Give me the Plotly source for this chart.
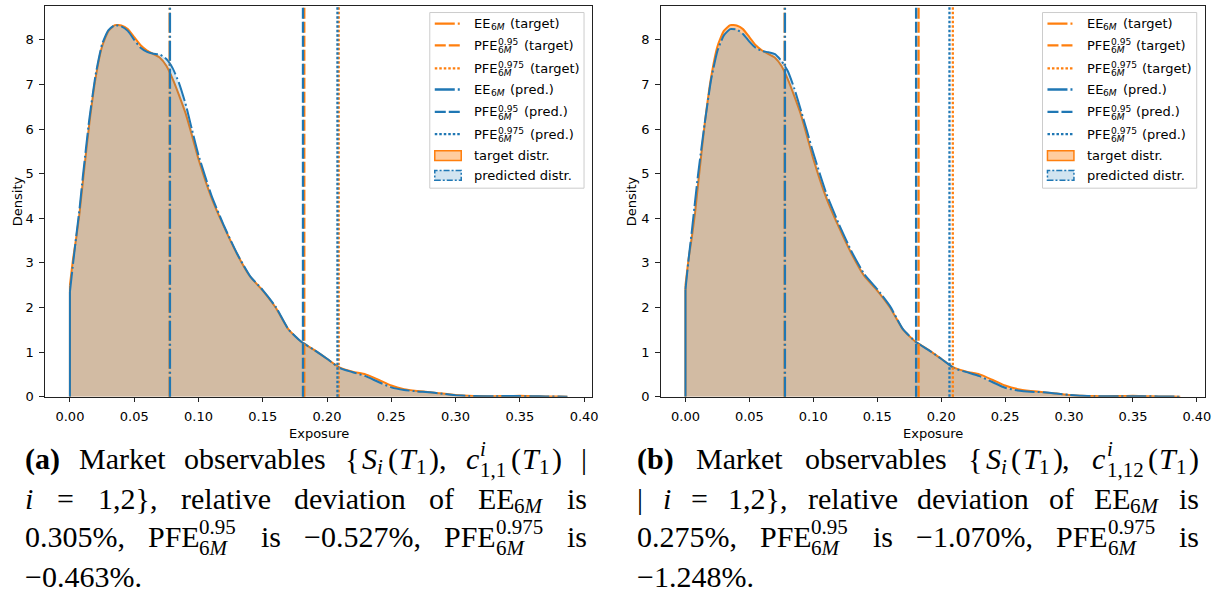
import plotly.graph_objects as go

# ------------------------------------------------------------------ data
exposure_grid = [0.0, 0.0025, 0.005, 0.0075, 0.01, 0.015, 0.02, 0.025, 0.03, 0.035,
                 0.04, 0.045, 0.05, 0.055, 0.06, 0.065, 0.07, 0.075, 0.08, 0.085,
                 0.09, 0.095, 0.10, 0.11, 0.12, 0.13, 0.14, 0.15, 0.16, 0.17,
                 0.18, 0.19, 0.20, 0.21, 0.22, 0.23, 0.24, 0.25, 0.26, 0.27,
                 0.28, 0.29, 0.30, 0.31, 0.32, 0.33, 0.34, 0.35, 0.36, 0.37,
                 0.38, 0.387]

target_density = [2.50, 3.10, 3.58, 4.12, 4.80, 6.10, 7.15, 7.85, 8.20, 8.33,
                  8.32, 8.24, 8.06, 7.88, 7.76, 7.68, 7.60, 7.42, 7.12, 6.75,
                  6.35, 5.85, 5.33, 4.47, 3.80, 3.20, 2.70, 2.38, 2.00, 1.51,
                  1.23, 1.05, 0.85, 0.65, 0.56, 0.50, 0.38, 0.25, 0.17, 0.13,
                  0.10, 0.07, 0.04, 0.02, 0.013, 0.012, 0.016, 0.02, 0.012, 0.006,
                  0.003, 0.001]

pred_density_a = [2.35, 3.00, 3.62, 4.22, 4.92, 6.20, 7.22, 7.90, 8.22, 8.33,
                  8.30, 8.20, 8.00, 7.82, 7.73, 7.69, 7.67, 7.57, 7.36, 7.02,
                  6.56, 5.98, 5.42, 4.52, 3.82, 3.21, 2.71, 2.39, 2.02, 1.51,
                  1.23, 1.05, 0.85, 0.64, 0.55, 0.46, 0.33, 0.21, 0.15, 0.12,
                  0.10, 0.065, 0.035, 0.018, 0.012, 0.012, 0.014, 0.014, 0.01, 0.006,
                  0.003, 0.001]

pred_density_b = [2.40, 3.10, 3.72, 4.38, 5.02, 6.12, 7.10, 7.75, 8.10, 8.24,
                  8.23, 8.13, 7.96, 7.82, 7.75, 7.72, 7.68, 7.53, 7.30, 6.92,
                  6.45, 5.96, 5.46, 4.57, 3.87, 3.25, 2.74, 2.41, 2.03, 1.52,
                  1.23, 1.05, 0.85, 0.64, 0.55, 0.46, 0.33, 0.20, 0.14, 0.11,
                  0.10, 0.07, 0.04, 0.02, 0.012, 0.01, 0.012, 0.012, 0.01, 0.006,
                  0.003, 0.001]

risk_measures = ["EE", "PFE95", "PFE975"]
target_measure_values = [0.0776, 0.1823, 0.2091]
pred_measure_values_a = [0.0778, 0.1813, 0.2081]
pred_measure_values_b = [0.0778, 0.1804, 0.2065]

x_tick_values = [0.00, 0.05, 0.10, 0.15, 0.20, 0.25, 0.30, 0.35, 0.40]
x_tick_labels = ["0.00", "0.05", "0.10", "0.15", "0.20", "0.25", "0.30", "0.35", "0.40"]
y_tick_values = [0, 1, 2, 3, 4, 5, 6, 7, 8]
y_tick_labels = ["0", "1", "2", "3", "4", "5", "6", "7", "8"]

# ------------------------------------------------------------------ style
W, H = 1230, 607
ORANGE = "#ff7f0e"
BLUE = "#1f77b4"
SANS = "DejaVu Sans"
SERIF = "Liberation Serif"
DASH_EE = "20px,3px,2px,3px"
DASH_95 = "11px,3px"
DASH_975 = "2.5px,2px"
measure_dashes = [DASH_EE, DASH_95, DASH_975]


def fx(p):
    return p / W


def fy(p):
    return 1 - p / H


shapes, annotations = [], []


def ann(x, y, text, size, family=SANS, anchor="left", angle=0):
    annotations.append(dict(x=fx(x), y=fy(y), xref="paper", yref="paper", text=text,
                            showarrow=False, xanchor=anchor, yanchor="middle",
                            textangle=angle, borderpad=0,
                            font=dict(family=family, size=size, color="black")))


fig = go.Figure()

axis_style = dict(showline=True, mirror=True, linecolor="#222222", linewidth=1.1,
                  ticks="outside", ticklen=4.5, tickwidth=1.1, tickcolor="#222222",
                  showgrid=False, zeroline=False, ticklabelstandoff=3,
                  tickfont=dict(family=SANS, size=13, color="black"), fixedrange=True)

panels = [
    dict(xa="x", ya="y", xkey="xaxis", ykey="yaxis", left=45.2, right=595.4,
         pred=pred_density_a, pred_vals=pred_measure_values_a, ytitle_x=17),
    dict(xa="x2", ya="y2", xkey="xaxis2", ykey="yaxis2", left=663.9, right=1211.1,
         pred=pred_density_b, pred_vals=pred_measure_values_b, ytitle_x=634),
]

for p in panels:
    for dens, fillc, col, dash in ((target_density, "rgba(255,127,14,0.4)", ORANGE, "solid"),
                                   (p["pred"], "rgba(31,119,180,0.2)", BLUE, DASH_EE)):
        fig.add_trace(go.Scatter(x=exposure_grid, y=dens, xaxis=p["xa"], yaxis=p["ya"],
                                 mode="lines", fill="tozeroy", fillcolor=fillc,
                                 line=dict(color=col, width=2, dash=dash, shape="spline", smoothing=0.5),
                                 hoverinfo="skip", showlegend=False))
        fig.add_trace(go.Scatter(x=[exposure_grid[0], exposure_grid[0], None, exposure_grid[-1], exposure_grid[-1]],
                                 y=[0, dens[0], None, 0, dens[-1]], xaxis=p["xa"], yaxis=p["ya"],
                                 mode="lines", line=dict(color=col, width=2),
                                 hoverinfo="skip", showlegend=False))
    for vals, col in ((target_measure_values, ORANGE), (p["pred_vals"], BLUE)):
        for v, d in zip(vals, measure_dashes):
            shapes.append(dict(type="line", xref=p["xa"], yref=p["ya"] + " domain",
                               x0=v, x1=v, y0=0, y1=1, layer="above",
                               line=dict(color=col, width=2.3, dash=d)))
    fig.update_layout(**{
        p["xkey"]: dict(domain=[fx(p["left"]), fx(p["right"])], range=[-0.0194, 0.4065],
                        anchor=p["ya"], tickmode="array", tickvals=x_tick_values,
                        ticktext=x_tick_labels, **axis_style),
        p["ykey"]: dict(domain=[fy(402), fy(6)], range=[0, 8.76], anchor=p["xa"],
                        tickmode="array", tickvals=y_tick_values, ticktext=y_tick_labels,
                        **axis_style),
    })
    ann((p["left"] + p["right"]) / 2, 439, "Exposure", 13, anchor="center")
    ann(p["ytitle_x"], 204, "Density", 13, anchor="center", angle=-90)

# ------------------------------------------------------------------ legends
legend_rows_y = [24, 46, 69.3, 90.7, 113.3, 136, 157.7, 177.7]
legend_sups = [None, "0.95", "0.975"]
legend_suffix_dx = [36.7, 50.0, 56.0]


def legend(box_left):
    box_w, box_top, box_bot = 155, 12.7, 190.7
    shapes.append(dict(type="rect", xref="paper", yref="paper", x0=fx(box_left), x1=fx(box_left + box_w),
                       y0=fy(box_bot), y1=fy(box_top), layer="above",
                       fillcolor="rgba(255,255,255,0.8)", line=dict(color="#cccccc", width=1)))
    s0, s1 = box_left + 5, box_left + 31.6
    T = box_left + 43.3
    row = 0
    for col, who in ((ORANGE, "(target)"), (BLUE, "(pred.)")):
        for k, d in enumerate(measure_dashes):
            y = legend_rows_y[row]
            shapes.append(dict(type="line", xref="paper", yref="paper", x0=fx(s0), x1=fx(s1),
                               y0=fy(y), y1=fy(y), layer="above", line=dict(color=col, width=2.3, dash=d)))
            if legend_sups[k] is None:
                ann(T, y, "EE", 13)
                ann(T + 16.7, y + 3.5, "6<i>M</i>", 9.1)
            else:
                ann(T, y, "PFE", 13)
                ann(T + 24.5, y - 3.2, legend_sups[k], 9.1)
                ann(T + 24.5, y + 5.0, "6<i>M</i>", 9.1)
            ann(T + legend_suffix_dx[k], y, who, 13)
            row += 1
    for col, fillc, d, label in ((ORANGE, "rgba(255,127,14,0.4)", "solid", "target distr."),
                                 (BLUE, "rgba(31,119,180,0.2)", "6px,2px,2px,2px", "predicted distr.")):
        y = legend_rows_y[row]
        shapes.append(dict(type="rect", xref="paper", yref="paper", x0=fx(s0), x1=fx(s1),
                           y0=fy(y + 5), y1=fy(y - 5), layer="above", fillcolor=fillc,
                           line=dict(color=col, width=1.5, dash=d)))
        ann(T, y, label, 13)
        row += 1


for p in panels:
    legend(p["right"] - 163.5)

# ------------------------------------------------------------------ captions
CAP_FS = 30
WIDTHS = {
    "r": {" ": 250, "(": 333, ")": 333, "{": 480, "}": 480, ",": 250, ".": 250, "%": 833,
          "=": 564, "\u2212": 564, "|": 200, "a": 444, "b": 500, "c": 444, "d": 500, "e": 444,
          "f": 333, "i": 278, "k": 500, "l": 278, "n": 500, "o": 500, "r": 333, "s": 389,
          "t": 278, "v": 500, "E": 611, "F": 556, "P": 556, "M": 889, "T": 611, "S": 556},
    "i": {"i": 278, "c": 444, "S": 500, "T": 556, "M": 833},
    "b": {"(": 333, ")": 333, "a": 500, "b": 556},
}


def items_width(items, scale=1.0):
    return sum(WIDTHS[v].get(ch, 500) for t, v in items for ch in t) / 1000 * CAP_FS * scale


def items_html(items):
    out = ""
    for t, v in items:
        out += "<i>%s</i>" % t if v == "i" else ("<b>%s</b>" % t if v == "b" else t)
    return out


def M(*items):
    return ("m", list(items))


def Sc(sup=None, sub=None):
    return ("s", sup, sub)


def P(px):
    return ("p", px)


def piece_width(pc):
    if pc[0] == "m":
        return items_width(pc[1])
    if pc[0] == "p":
        return pc[1]
    ws = [items_width(x, 0.7) for x in (pc[1], pc[2]) if x]
    return max(ws) + 1


def chunk_width(chunk):
    return sum(piece_width(pc) for pc in chunk)


def render_chunk(x, b, chunk):
    cur = x
    for pc in chunk:
        if pc[0] == "m":
            ann(cur, b - 0.34 * CAP_FS, items_html(pc[1]), CAP_FS, family=SERIF)
        elif pc[0] == "s":
            sup, sub = pc[1], pc[2]
            small = 0.7 * CAP_FS
            if sup:
                ann(cur, b - 0.42 * CAP_FS - 0.34 * small, items_html(sup), small, family=SERIF)
            if sub:
                sb = b + (0.28 if sup else 0.17) * CAP_FS
                ann(cur, sb - 0.34 * small, items_html(sub), small, family=SERIF)
        cur += piece_width(pc)


def render_line(L, R, b, chunks, justify=True):
    ws = [chunk_width(c) for c in chunks]
    if justify and len(chunks) > 1:
        gap = (R - L - sum(ws)) / (len(chunks) - 1)
    else:
        gap = 0.25 * CAP_FS
    x = L
    for c, w in zip(chunks, ws):
        render_chunk(x, b, c)
        x += w + gap


MP = 3.5  # extra math spacing
SIX_M = [("6", "r"), ("M", "i")]
S_I_T1 = [M(("{", "r")), P(MP), M(("S", "i")), Sc(sub=[("i", "i")]), P(MP), M(("(", "r")), P(MP / 2),
          M(("T", "i")), Sc(sub=[("1", "r")]), P(MP / 2), M((")", "r")), M((",", "r"))]


def c_term(sub):
    return [M(("c", "i")), P(1), Sc(sup=[("i", "i")], sub=[(sub, "r")]), P(MP), M(("(", "r")), P(MP / 2),
            M(("T", "i")), Sc(sub=[("1", "r")]), P(MP / 2), M((")", "r"))]


def pfe(level):
    return [M(("PFE", "r")), Sc(sup=[(level, "r")], sub=SIX_M)]


EE6M = [M(("EE", "r")), Sc(sub=SIX_M)]

caption_a = [
    [[M(("(a)", "b"))], [M(("Market", "r"))], [M(("observables", "r"))], S_I_T1, c_term("1,1"), [M(("|", "r"))]],
    [[M(("i", "i"))], [M(("=", "r"))], [M(("1,2},", "r"))], [M(("relative", "r"))], [M(("deviation", "r"))],
     [M(("of", "r"))], EE6M, [M(("is", "r"))]],
    [[M(("0.305%,", "r"))], pfe("0.95"), [M(("is", "r"))], [M(("\u22120.527%,", "r"))], pfe("0.975"), [M(("is", "r"))]],
    [[M(("\u22120.463%.", "r"))]],
]
caption_b = [
    [[M(("(b)", "b"))], [M(("Market", "r"))], [M(("observables", "r"))], S_I_T1, c_term("1,12")],
    [[M(("|", "r"))], [M(("i", "i"))], [M(("=", "r"))], [M(("1,2},", "r"))], [M(("relative", "r"))],
     [M(("deviation", "r"))], [M(("of", "r"))], EE6M, [M(("is", "r"))]],
    [[M(("0.275%,", "r"))], pfe("0.95"), [M(("is", "r"))], [M(("\u22121.070%,", "r"))], pfe("0.975"), [M(("is", "r"))]],
    [[M(("\u22121.248%.", "r"))]],
]
caption_baselines = [475, 515, 554, 594]

for cap, (L, R) in ((caption_a, (24, 589)), (caption_b, (639, 1204))):
    for i, (line, b) in enumerate(zip(cap, caption_baselines)):
        render_line(L, R, b, line, justify=(i < 3))

fig.update_layout(width=W, height=H, margin=dict(l=0, r=0, t=0, b=0),
                  paper_bgcolor="white", plot_bgcolor="white", showlegend=False,
                  shapes=shapes, annotations=annotations)

fig.write_html("out.html")
